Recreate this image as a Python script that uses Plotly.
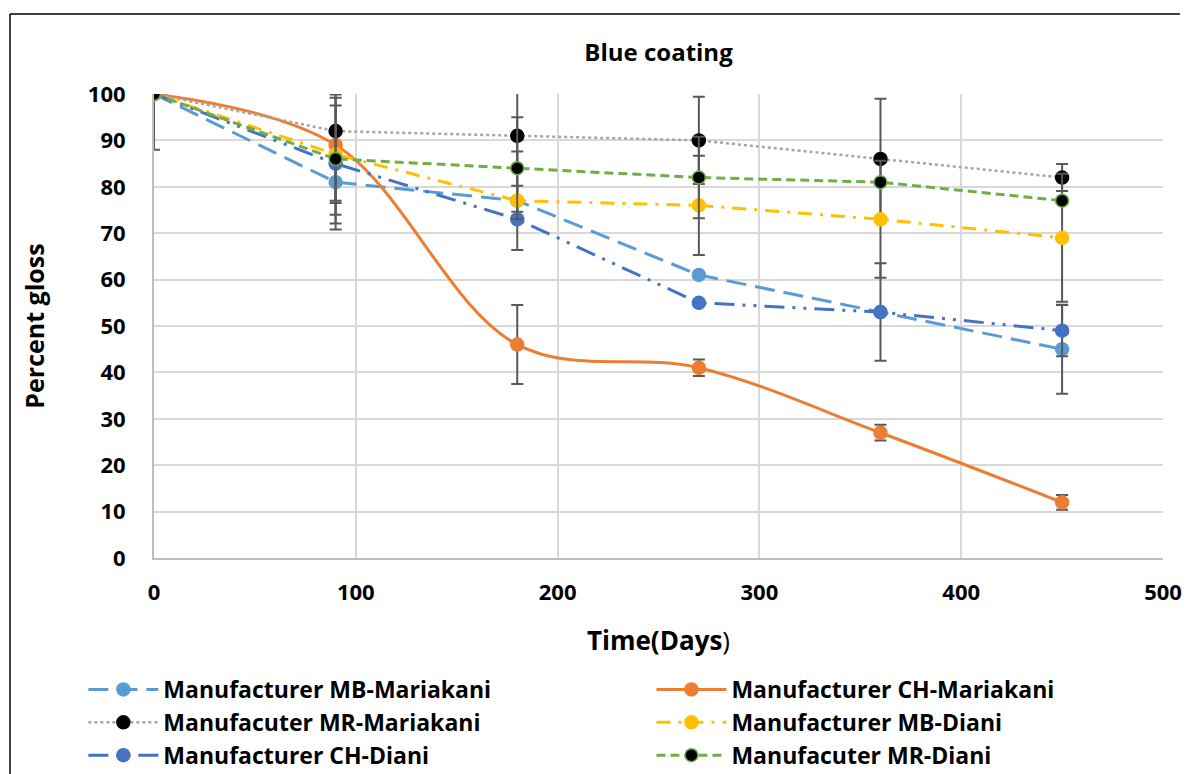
import plotly.graph_objects as go

days = [0, 90, 180, 270, 360, 450]

series_names = [
    "Manufacturer MB-Mariakani",
    "Manufacturer CH-Mariakani",
    "Manufacuter MR-Mariakani",
    "Manufacturer MB-Diani",
    "Manufacturer CH-Diani",
    "Manufacuter MR-Diani",
]

mb_mariakani = [100, 81, 77, 61, 53, 45]
ch_mariakani = [100, 89, 46, 41, 27, 12]
mr_mariakani = [100, 92, 91, 90, 86, 82]
mb_diani = [100, 87, 77, 76, 73, 69]
ch_diani = [100, 85, 73, 55, 53, 49]
mr_diani = [100, 86, 84, 82, 81, 77]

err_mb_mariakani = [12, 4, 3.2, 0, 10.5, 9.6]
err_ch_mariakani = [0, 15, 8.5, 1.8, 1.7, 1.6]
err_mr_mariakani = [0, 0, 16.4, 9.4, 13, 2.9]
err_mb_diani = [0, 10.5, 10.6, 10.7, 12.6, 13.8]
err_ch_diani = [0, 14.2, 0, 0, 0, 5.5]
err_mr_diani = [0, 13.9, 11, 8.8, 0, 0]

values = [mb_mariakani, ch_mariakani, mr_mariakani, mb_diani, ch_diani, mr_diani]
errors = [err_mb_mariakani, err_ch_mariakani, err_mr_mariakani, err_mb_diani, err_ch_diani, err_mr_diani]

line_colors = ["#5B9BD5", "#ED7D31", "#A5A5A5", "#FFC000", "#4472C4", "#70AD47"]
marker_colors = ["#5B9BD5", "#ED7D31", "#000000", "#FFC000", "#4472C4", "#000000"]
marker_lines = ["#5B9BD5", "#ED7D31", "#000000", "#FFC000", "#4472C4", "#70AD47"]
dashes = ["20px,9px", "solid", "dot", "14px,8px,3px,8px", "20px,8px,3px,8px,3px,8px", "9px,5px"]
widths = [3, 3, 2.5, 3, 3, 3]
shapes = ["linear", "spline", "linear", "linear", "linear", "linear"]
legend_ids = ["legend", "legend2", "legend", "legend2", "legend", "legend2"]

FONT = "'Open Sans', Lato, sans-serif"

fig = go.Figure()
for name, y, e, lc, mc, ml, d, w, s, lg in zip(series_names, values, errors, line_colors,
                                              marker_colors, marker_lines, dashes, widths, shapes, legend_ids):
    fig.add_trace(go.Scatter(
        x=days, y=y, name="<b>" + name + "</b>", mode="lines+markers", legend=lg,
        line=dict(color=lc, width=w, dash=d, shape=s, smoothing=1.0),
        marker=dict(symbol="circle", size=13, color=mc, line=dict(color=ml, width=1.5)),
        error_y=dict(type="data", array=e, visible=True, color="#595959", thickness=2, width=6),
    ))

# outer chart frame (left and top)
fig.add_shape(type="line", xref="paper", yref="paper", x0=-0.1427, x1=-0.1427, y0=1.1724, y1=-0.6,
              line=dict(color="black", width=1.5))
fig.add_shape(type="line", xref="paper", yref="paper", x0=-0.1427, x1=1.0168, y0=1.1724, y1=1.1724,
              line=dict(color="black", width=1.5))

legend_common = dict(orientation="v", xanchor="left", y=-0.237, yanchor="top", tracegroupgap=0,
                     font=dict(size=23, family=FONT, color="black"), itemwidth=70,
                     bgcolor="rgba(0,0,0,0)")

fig.update_layout(
    width=1189, height=774,
    margin=dict(l=154, r=26, t=94, b=216, autoexpand=False),
    paper_bgcolor="white", plot_bgcolor="white",
    font=dict(family=FONT, color="black"),
    title=dict(text="<b>Blue coating</b>", x=0.5, xref="paper", xanchor="center",
               y=1 - 53 / 774, yanchor="middle", font=dict(size=24, family=FONT, color="black")),
    xaxis=dict(range=[0, 500], dtick=100, tick0=0, showgrid=True, gridcolor="#D9D9D9", gridwidth=1.5,
               zeroline=False, showline=True, linecolor="#BFBFBF", linewidth=2, ticks="",
               tickfont=dict(size=22, family=FONT, color="black"), tickprefix="<b>", ticksuffix="</b>",
               ticklabelstandoff=14,
               title=dict(text="<b>Time(Days</b>)", font=dict(size=26, family=FONT, color="black"), standoff=26)),
    yaxis=dict(range=[0, 100], dtick=10, tick0=0, showgrid=True, gridcolor="#D9D9D9", gridwidth=1.5,
               zeroline=False, showline=True, linecolor="#BFBFBF", linewidth=2, ticks="",
               tickfont=dict(size=22, family=FONT, color="black"), tickprefix="<b>", ticksuffix="</b>",
               ticklabelstandoff=22,
               title=dict(text="<b>Percent gloss</b>", font=dict(size=25, family=FONT, color="black"), standoff=36)),
    legend=dict(x=-0.07, **legend_common),
    legend2=dict(x=0.493, **legend_common),
    showlegend=True,
)

fig.write_html("out.html")
